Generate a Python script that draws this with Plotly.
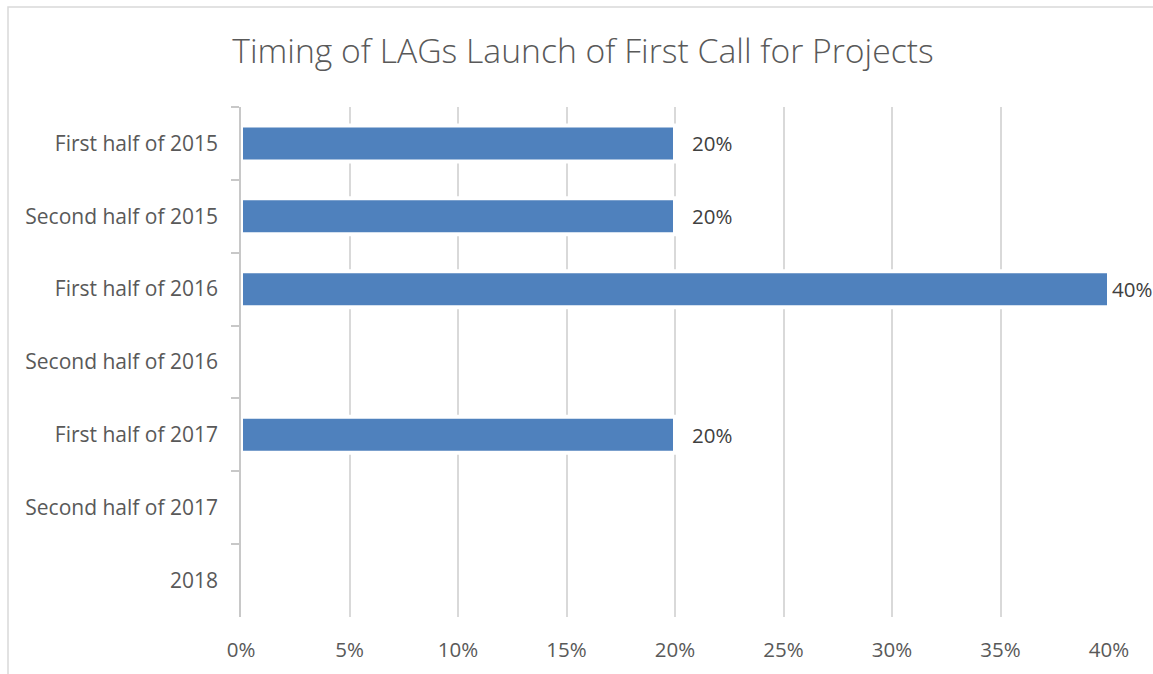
import plotly.graph_objects as go

categories = ["First half of 2015", "Second half of 2015", "First half of 2016",
              "Second half of 2016", "First half of 2017", "Second half of 2017", "2018"]
values = [0.20, 0.20, 0.40, 0.0, 0.20, 0.0, 0.0]
x_ticks = [0, 0.05, 0.10, 0.15, 0.20, 0.25, 0.30, 0.35, 0.40]
x_tick_labels = ["0%", "5%", "10%", "15%", "20%", "25%", "30%", "35%", "40%"]
title_text = "Timing of LAGs Launch of First Call for Projects"

W, H = 1153, 674
L, R, T, B = 241, 44, 107, 57
pw, ph = W - L - R, H - T - B
FONT = "Open Sans"

fig = go.Figure()
fig.add_trace(go.Bar(
    y=categories, x=values, orientation="h",
    marker=dict(color="#4F81BD", line=dict(color="#FFFFFF", width=4)),
    hoverinfo="skip",
))

annotations = []
xmax = max(x_ticks)
for c, v in zip(categories, values):
    if v > 0:
        annotations.append(dict(
            x=v, y=c, xref="x", yref="y", text=f"{v*100:.0f}%",
            showarrow=False, xanchor="left", yanchor="middle",
            xshift=1 if v >= xmax else 15,
            font=dict(family=FONT, size=20.5, color="#404040"),
        ))

def px_x(p):
    return (p - L) / pw

def px_y(p):
    return (H - B - p) / ph

fig.update_layout(
    width=W, height=H,
    margin=dict(l=L, r=R, t=T, b=B),
    paper_bgcolor="white", plot_bgcolor="white",
    showlegend=False,
    bargap=0.506,
    title=dict(text=title_text, x=583 / W, xref="container", xanchor="center",
               y=1 - 51 / H, yref="container", yanchor="middle",
               font=dict(family=FONT, size=33.7, color="#595959", weight=300)),
    annotations=annotations,
    shapes=[dict(type="rect", xref="paper", yref="paper",
                 x0=px_x(8), x1=px_x(1165), y0=px_y(690), y1=px_y(7),
                 line=dict(color="#D9D9D9", width=1.5), fillcolor="rgba(0,0,0,0)",
                 layer="below")],
    xaxis=dict(range=[0, 0.4], tickvals=x_ticks, ticktext=x_tick_labels,
               showgrid=True, gridcolor="#D9D9D9", gridwidth=1.5,
               zeroline=False, showline=False, ticks="",
               ticklabelstandoff=18,
               tickfont=dict(family=FONT, size=20.5, color="#595959")),
    yaxis=dict(autorange="reversed", categoryorder="array", categoryarray=categories,
               showgrid=False, zeroline=False,
               showline=True, linecolor="#C8C8C8", linewidth=1.5,
               ticks="outside", tickson="boundaries", ticklen=8, tickcolor="#C8C8C8",
               tickwidth=1.5, ticklabelstandoff=17,
               tickfont=dict(family=FONT, size=21, color="#595959")),
)

fig.write_html("out.html", config={"displayModeBar": False},
               post_script="document.body.style.margin='0';document.body.style.overflow='hidden';")
